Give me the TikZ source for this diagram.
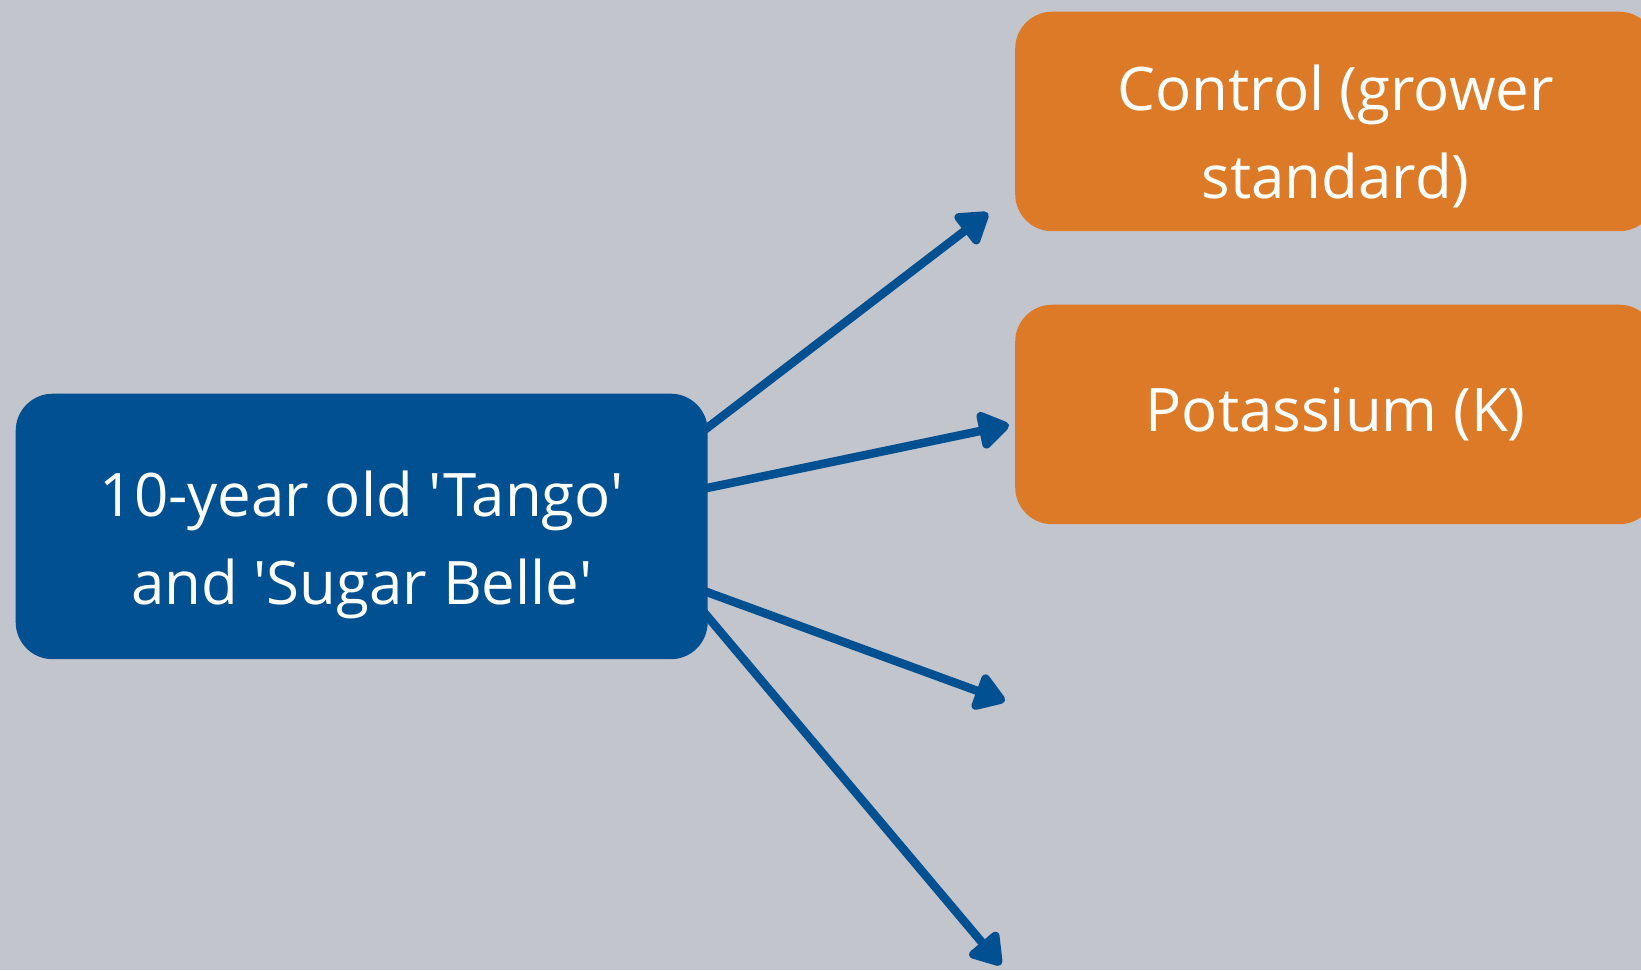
\documentclass[tikz,border=0pt]{standalone}
\usepackage{fontspec}
\setmainfont{Open Sans}[Ligatures=TeXOff]
\usetikzlibrary{arrows.meta,calc}
\definecolor{bg}{HTML}{C2C5CC}
\definecolor{navy}{HTML}{015091}
\definecolor{orng}{HTML}{DD7A27}
\pgfdeclarelayer{front}
\pgfsetlayers{main,front}
\tikzset{
  box/.style={rounded corners=37pt, text=white, align=center, inner sep=0pt,
    font=\fontsize{60}{88}\selectfont, anchor=north west},
  conn/.style={draw=navy, line width=8.5pt, line cap=round, line join=round,
    -{Triangle[length=34pt,width=42pt,round]}}
}
\begin{document}
\begin{tikzpicture}[x=1pt,y=-1pt]
\fill[bg] (0,0) rectangle (1641,970);
\useasboundingbox (0,0) rectangle (1641,970);
\coordinate (t1) at (988,213);
\coordinate (t2) at (1009,425);
\coordinate (t3) at (1005,701);
\coordinate (t4) at (1001,965);
\begin{pgfonlayer}{front}
\node[box, fill=navy, minimum width=692pt, minimum height=265.5pt] (src) at (15.5,393.5) {\rule{0pt}{83pt}10-year old 'Tango'\\and 'Sugar Belle'};
\node[box, fill=orng, minimum width=641pt, minimum height=219.5pt] (ctrl) at (1015,11.5) {\rule{0pt}{76pt}Control (grower\\standard)};
\node[box, fill=orng, minimum width=641pt, minimum height=219.5pt] (pot) at (1015,304.5) {Potassium (K)};
\end{pgfonlayer}
\coordinate (s1) at ($(src.north east)+(-8,40)$);
\coordinate (s2) at ($(src.north east)+(-8,96)$);
\coordinate (s3) at ($(src.north east)+(-8,196)$);
\coordinate (s4) at ($(src.north east)+(-8,214)$);
\draw[conn] (s1) -- (t1);
\draw[conn] (s2) -- (t2);
\draw[conn] (s3) -- (t3);
\draw[conn] (s4) -- (t4);
\end{tikzpicture}
\end{document}
